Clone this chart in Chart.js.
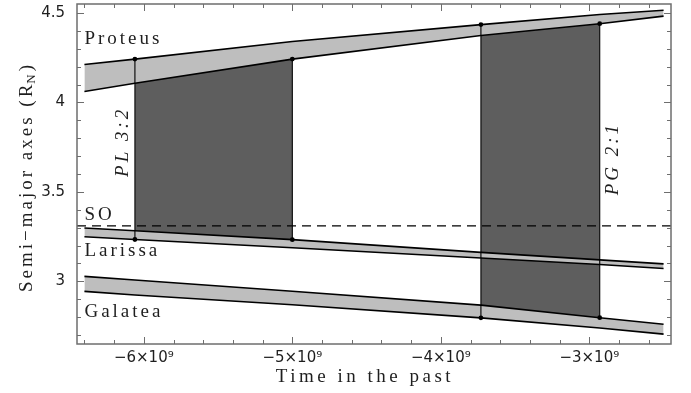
<!DOCTYPE html>
<html>
<head>
<meta charset="utf-8">
<script src="https://cdn.jsdelivr.net/npm/chart.js@4.4.0/dist/chart.umd.min.js"></script>
<style>
  body { margin: 0; background: #fff; }
  #wrap { width: 691px; height: 393px; }
</style>
</head>
<body>
<div id="wrap"><canvas id="orbitChart" width="691" height="393"></canvas></div>
<script>
// time samples (years in the past)
const times = [-6.4e9, -6.06e9, -5.0e9, -3.73e9, -2.93e9, -2.5e9];

// semi-major axes (R_N), upper and lower edge of each band
const proteusUpper = [4.212, 4.242, 4.340, 4.435, 4.491, 4.515];
const proteusLower = [4.061, 4.107, 4.242, 4.374, 4.440, 4.482];
const larissaUpper = [3.298, 3.283, 3.233, 3.162, 3.120, 3.098];
const larissaLower = [3.249, 3.234, 3.188, 3.131, 3.094, 3.072];
const galateaUpper = [3.028, 3.008, 2.945, 2.867, 2.797, 2.760];
const galateaLower = [2.944, 2.924, 2.869, 2.796, 2.739, 2.705];

// synchronous orbit
const soRadius = 3.31;
const soTimes = [-6.45e9, -2.45e9];

// resonance crossings (indices into times)
const plIdx = [1, 2];
const pgIdx = [3, 4];

const xTicks = [-6e9, -5e9, -4e9, -3e9];
const yTicks = [3, 3.5, 4, 4.5];

const DARK = "#5e5e5e";
const LIGHT = "#bebebe";
const AXIS = "#6e6e6e";

function pts(xs, ys) {
    return xs.map((x, i) => ({x: x, y: ys[i]}));
}
function pick(idx, ys) {
    return idx.map(i => ({x: times[i], y: ys[i]}));
}

function band(data, fillTo) {
    return {
        data: data,
        borderColor: "#000",
        borderWidth: 1.6,
        backgroundColor: LIGHT,
        fill: fillTo === undefined ? false : fillTo,
        pointRadius: 0,
        order: 10
    };
}
function region(data, fillTo) {
    return {
        data: data,
        borderWidth: 0,
        borderColor: DARK,
        backgroundColor: DARK,
        fill: fillTo === undefined ? false : fillTo,
        pointRadius: 0,
        order: 20
    };
}
function crossing(t, top, bottom) {
    return {
        data: [{x: t, y: top}, {x: t, y: bottom}],
        borderColor: "#000",
        borderWidth: 1.1,
        pointRadius: 2.4,
        pointBackgroundColor: "#000",
        pointBorderWidth: 0,
        fill: false,
        order: 1
    };
}

const datasets = [
    region(pick(plIdx, proteusLower), 1),
    region(pick(plIdx, larissaUpper)),
    region(pick(pgIdx, proteusLower), 3),
    region(pick(pgIdx, galateaUpper)),
    band(pts(times, proteusUpper), 5),
    band(pts(times, proteusLower)),
    band(pts(times, larissaUpper), 7),
    band(pts(times, larissaLower)),
    band(pts(times, galateaUpper), 9),
    band(pts(times, galateaLower)),
    {
        data: soTimes.map(t => ({x: t, y: soRadius})),
        borderColor: "#000",
        borderWidth: 1.3,
        borderDash: [9, 6],
        pointRadius: 0,
        fill: false,
        order: 5
    },
    crossing(times[plIdx[0]], proteusUpper[plIdx[0]], larissaLower[plIdx[0]]),
    crossing(times[plIdx[1]], proteusLower[plIdx[1]], larissaUpper[plIdx[1]]),
    crossing(times[pgIdx[0]], proteusUpper[pgIdx[0]], galateaLower[pgIdx[0]]),
    crossing(times[pgIdx[1]], proteusLower[pgIdx[1]], galateaUpper[pgIdx[1]])
];

// Rahmen, Innen-Ticks und Beschriftungen
const annotate = {
    id: "annotate",
    afterDatasetsDraw(chart) {
        const ctx = chart.ctx;
        const a = chart.chartArea;
        const x = chart.scales.x;
        const y = chart.scales.y;
        ctx.save();
        ctx.strokeStyle = AXIS;
        ctx.lineWidth = 1;
        ctx.beginPath();
        for (let k = -32; k <= -13; k++) {
            const px = Math.round(x.getPixelForValue(k * 0.2e9)) + 0.5;
            const len = k % 5 === 0 ? 7 : 4;
            ctx.moveTo(px, a.bottom); ctx.lineTo(px, a.bottom - len);
            ctx.moveTo(px, a.top); ctx.lineTo(px, a.top + len);
        }
        for (let k = 27; k <= 45; k++) {
            const py = Math.round(y.getPixelForValue(k * 0.1)) + 0.5;
            const len = k % 5 === 0 ? 7 : 4;
            ctx.moveTo(a.left, py); ctx.lineTo(a.left + len, py);
            ctx.moveTo(a.right, py); ctx.lineTo(a.right - len, py);
        }
        ctx.stroke();
        ctx.lineWidth = 1.5;
        ctx.strokeRect(a.left, a.top, a.right - a.left, a.bottom - a.top);

        ctx.fillStyle = "#1e1e1e";
        ctx.textBaseline = "middle";
        ctx.font = '19px "Liberation Serif"';
        ctx.letterSpacing = "3px";
        ctx.textAlign = "left";
        const left = x.getPixelForValue(-6.4e9);
        ctx.fillText("Proteus", left, y.getPixelForValue(4.353));
        ctx.fillText("SO", left, y.getPixelForValue(3.371));
        ctx.fillText("Larissa", left, y.getPixelForValue(3.172));
        ctx.fillText("Galatea", left, y.getPixelForValue(2.830));

        // Resonanz-Beschriftungen (gedreht)
        ctx.font = 'italic 19px "Liberation Serif"';
        ctx.textAlign = "center";
        [["PL 3:2", -6.14e9, 3.78], ["PG 2:1", -2.84e9, 3.686]].forEach(function (lbl) {
            ctx.save();
            ctx.translate(x.getPixelForValue(lbl[1]), y.getPixelForValue(lbl[2]));
            ctx.rotate(-Math.PI / 2);
            ctx.fillText(lbl[0], 0, 0);
            ctx.restore();
        });

        // x-Achsentitel
        ctx.font = '19px "Liberation Serif"';
        ctx.letterSpacing = "3.5px";
        ctx.fillText("Time in the past", a.left + 288, 377);

        // y-Achsentitel mit Index N
        ctx.save();
        ctx.translate(27, (a.top + a.bottom) / 2 + 2);
        ctx.rotate(-Math.PI / 2);
        ctx.letterSpacing = "3px";
        ctx.textAlign = "left";
        const main = "Semi\u2212major axes (R";
        ctx.font = '19px "Liberation Serif"';
        const w1 = ctx.measureText(main).width;
        ctx.font = '13px "Liberation Serif"';
        const w2 = ctx.measureText("N").width;
        ctx.font = '19px "Liberation Serif"';
        const w3 = ctx.measureText(")").width;
        let pos = -(w1 + w2 + w3) / 2;
        ctx.fillText(main, pos, 0);
        pos += w1 - 2;
        ctx.font = '13px "Liberation Serif"';
        ctx.fillText("N", pos, 5);
        pos += w2;
        ctx.font = '19px "Liberation Serif"';
        ctx.fillText(")", pos, 0);
        ctx.restore();

        ctx.restore();
    }
};

const orbitChart = new Chart(document.getElementById("orbitChart"), {
    type: "line",
    data: { datasets: datasets },
    options: {
        responsive: false,
        animation: false,
        events: [],
        layout: { padding: { left: 0, right: 20, top: 1, bottom: 0 } },
        elements: { line: { tension: 0 }, point: { radius: 0 } },
        plugins: {
            legend: { display: false },
            tooltip: { enabled: false },
            filler: { drawTime: "beforeDatasetsDraw" }
        },
        scales: {
            x: {
                type: "linear",
                min: -6.45e9,
                max: -2.45e9,
                grid: { display: false, drawTicks: false },
                border: { display: false },
                afterBuildTicks: function (scale) {
                    scale.ticks = xTicks.map(v => ({value: v}));
                },
                afterFit: function (scale) {
                    scale.height = 49;
                    scale.paddingLeft = 0;
                    scale.paddingRight = 0;
                },
                ticks: {
                    padding: 5,
                    maxRotation: 0,
                    color: "#1e1e1e",
                    font: { family: "DejaVu Sans", size: 15 },
                    callback: v => "\u2212" + Math.abs(v / 1e9) + "\u00d710\u2079"
                }
            },
            y: {
                type: "linear",
                min: 2.65,
                max: 4.55,
                grid: { display: false, drawTicks: false },
                border: { display: false },
                afterBuildTicks: function (scale) {
                    scale.ticks = yTicks.map(v => ({value: v}));
                },
                afterFit: function (scale) {
                    scale.width = 77;
                    scale.paddingTop = 0;
                    scale.paddingBottom = 0;
                },
                ticks: {
                    padding: 12,
                    color: "#1e1e1e",
                    font: { family: "DejaVu Sans", size: 15 },
                    callback: v => String(v)
                }
            }
        }
    },
    plugins: [annotate]
});
</script>
</body>
</html>
